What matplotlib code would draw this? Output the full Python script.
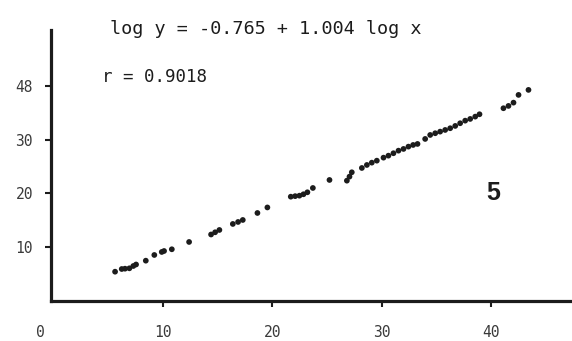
import matplotlib
matplotlib.use("Agg")
import matplotlib.pyplot as plt
from matplotlib.transforms import blended_transform_factory

# Observed vs. fitted values (sample 5)
x_vals = [5.61, 6.22, 6.52, 6.92, 7.28, 7.53, 8.42, 9.20, 9.88, 10.09,
          10.80, 12.38, 14.39, 14.76, 15.15, 16.38, 16.86, 17.29, 18.63, 19.54,
          21.68, 22.08, 22.47, 22.84, 23.20, 23.70, 25.22, 26.81, 27.05, 27.26,
          28.18, 28.64, 29.09, 29.55, 30.16, 30.61, 31.07, 31.53, 31.99, 32.44,
          32.87, 33.27, 33.97, 34.43, 34.89, 35.34, 35.80, 36.26, 36.72, 37.17,
          37.63, 38.09, 38.55, 38.94, 41.13, 41.59, 42.05, 42.51, 43.42]
y_vals = [5.45, 5.95, 6.01, 6.08, 6.51, 6.79, 7.50, 8.56, 9.12, 9.30,
          9.62, 10.98, 12.37, 12.78, 13.21, 14.33, 14.70, 15.07, 16.37, 17.40,
          19.40, 19.50, 19.59, 19.85, 20.22, 21.02, 22.51, 22.38, 23.13, 23.94,
          24.74, 25.30, 25.73, 26.10, 26.66, 27.03, 27.48, 27.96, 28.28, 28.71,
          29.02, 29.21, 30.14, 30.88, 31.20, 31.50, 31.81, 32.13, 32.56, 33.06,
          33.54, 33.86, 34.29, 34.73, 35.85, 36.28, 36.89, 38.33, 39.26]

x_ticks = [10, 20, 30, 40]
x_tick_labels = ["10", "20", "30", "40"]
y_ticks = [10, 20, 30, 40]
y_tick_labels = ["10", "20", "30", "48"]

equation = "log y = -0.765 + 1.004 log x"
corr = "r = 0.9018"
panel = "5"

ink = "#1c1c1c"
label_ink = "#3a3a3a"
mono = ["DejaVu Sans Mono"]

fig = plt.figure(figsize=(5.72, 3.41), dpi=100)
ax = fig.add_axes([51 / 572, 40 / 341, 1 - 51 / 572, 271 / 341])

ax.scatter(x_vals, y_vals, s=17, color=ink, edgecolors="none", zorder=3)

ax.set_xlim(-0.25, 47.4)
ax.set_ylim(0, 50.4)

for side in ("top", "right"):
    ax.spines[side].set_visible(False)
for side in ("left", "bottom"):
    ax.spines[side].set_linewidth(2.3)
    ax.spines[side].set_color(ink)

ax.set_xticks(x_ticks)
ax.set_xticklabels(x_tick_labels, family=mono, fontsize=10.5, color=label_ink)
ax.set_yticks(y_ticks)
ax.set_yticklabels(y_tick_labels, family=mono, fontsize=10.5, color=label_ink)
ax.tick_params(axis="x", direction="out", length=4, width=1.5, color=ink, pad=13)
ax.tick_params(axis="y", direction="out", length=4, width=1.5, color=ink, pad=9)

# origin label sits left of the axis corner
trans = blended_transform_factory(ax.transData, ax.transAxes)
ax.text(-1.2, -0.09, "0", transform=trans, family=mono, fontsize=10.5,
        color=label_ink, ha="center", va="top")

fig.text(110 / 572, 1 - 34 / 341, equation, family=mono, fontsize=13.3,
         color=ink, ha="left", va="baseline")
fig.text(102 / 572, 1 - 82 / 341, corr, family=mono, fontsize=12.5,
         color=ink, ha="left", va="baseline")
ax.text(40.2, 20.1, panel, family=["Liberation Sans"], fontsize=18,
        weight="bold", color=ink, ha="center", va="center")

fig.savefig("out.png", dpi=100, facecolor="white")
